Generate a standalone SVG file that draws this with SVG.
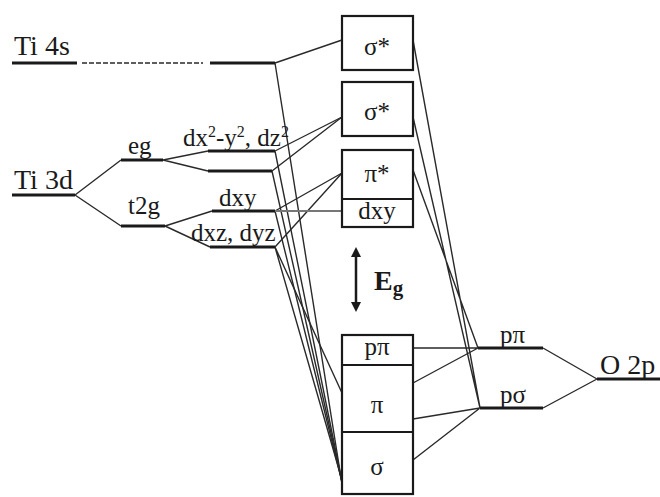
<svg xmlns="http://www.w3.org/2000/svg" width="660" height="497" viewBox="0 0 660 497">
  <style>
    .lvl { stroke: #1a1a1a; stroke-width: 3; fill: none; }
    .ln { stroke: #2a2a2a; stroke-width: 1.4; fill: none; }
    .box { stroke: #1a1a1a; stroke-width: 2.2; fill: #ffffff; }
    .div { stroke: #1a1a1a; stroke-width: 2.2; fill: none; }
  </style>
  <defs>
    <marker id="tri" viewBox="0 0 10 10" refX="5" refY="5" markerWidth="10" markerHeight="10" markerUnits="userSpaceOnUse" orient="auto-start-reverse">
      <path d="M0,0 L10,5 L0,10 z" fill="#1a1a1a"/>
    </marker>
  </defs>

  <rect width="660" height="497" fill="#ffffff"/>

  <!-- connectors -->
  <g id="connectors">
    <!-- splitting of Ti levels -->
    <path class="ln" d="M75,195 L121,160 M75,195 L121,226"/>
    <path class="ln" d="M163,160 L208,151 M163,160 L208,171"/>
    <path class="ln" d="M165,226 L212,211 M165,226 L210,247"/>
    <path class="ln" d="M82,63 L203,63" stroke-dasharray="5,2" stroke="#555"/>
    <!-- Ti side to molecular orbitals -->
    <path class="ln" d="M275,63 L342,40 M275,63 L342,484"/>
    <path class="ln" d="M275,151 L342,117 M275,151 L342,482"/>
    <path class="ln" d="M272,171 L342,117 M272,171 L342,482"/>
    <path class="ln" d="M275,211 L342,173 M275,211 L342,482"/>
    <path class="ln" d="M275,247 L342,173 M275,247 L342,393 M275,247 L342,480"/>
    <path d="M275,211 L342,211" stroke="#777" stroke-width="2.2"/>
    <!-- O side to molecular orbitals -->
    <path class="ln" d="M413,40 L480,408 M413,117 L480,408 M413,170 L478,348"/>
    <path class="ln" d="M413,348 L478,348 M413,383 L478,348 M413,419 L480,408 M413,460 L480,408"/>
    <path class="ln" d="M543,348 L597,379 M543,408 L597,379"/>
  </g>

  <!-- energy levels and orbital boxes -->
  <g font-family="'Liberation Serif', 'Noto Sans CJK SC', serif" font-size="25" fill="#1a1a1a">
    <g id="ti4s">
      <path class="lvl" d="M12,63 H77 M210,63 H275"/>
      <text x="14" y="55" font-size="28">Ti 4s</text>
    </g>

    <g id="ti3d">
      <path class="lvl" d="M12,195 H75"/>
      <text x="14" y="189" font-size="28">Ti 3d</text>
    </g>

    <g id="eg">
      <path class="lvl" d="M121,160 H163"/>
      <text x="128" y="154">eg</text>
    </g>

    <g id="t2g">
      <path class="lvl" d="M121,226 H165"/>
      <text x="128" y="214">t2g</text>
    </g>

    <g id="eg-levels">
      <path class="lvl" d="M208,151 H275 M208,171 H272"/>
      <text x="183" y="146">dx<tspan font-size="16" dy="-9">2</tspan><tspan dy="9">-y</tspan><tspan font-size="16" dy="-9">2</tspan><tspan dy="9">, dz</tspan><tspan font-size="16" dy="-9">2</tspan></text>
    </g>

    <g id="dxy-level">
      <path class="lvl" d="M212,211 H275"/>
      <text x="219" y="206">dxy</text>
    </g>

    <g id="dxz-dyz-level">
      <path class="lvl" d="M210,247 H275"/>
      <text x="191" y="241">dxz, dyz</text>
    </g>

    <!-- molecular orbitals -->
    <g id="sigma-star-1" text-anchor="middle">
      <rect class="box" x="342" y="16" width="71" height="54"/>
      <text x="377" y="55">&#963;*</text>
    </g>
    <g id="sigma-star-2" text-anchor="middle">
      <rect class="box" x="342" y="82" width="71" height="54"/>
      <text x="377" y="120">&#963;*</text>
    </g>
    <g id="pi-star" text-anchor="middle">
      <rect class="box" x="342" y="150" width="71" height="77"/>
      <path class="div" d="M342,199 H413"/>
      <text x="377" y="182">&#960;*</text>
      <text x="377" y="219">dxy</text>
    </g>

    <g id="gap">
      <line x1="356" y1="252" x2="356" y2="307" stroke="#1a1a1a" stroke-width="2.5" marker-start="url(#tri)" marker-end="url(#tri)"/>
      <text x="374" y="290" font-size="28" font-weight="bold">E<tspan font-size="21" dy="5">g</tspan></text>
    </g>

    <g id="bonding" text-anchor="middle">
      <rect class="box" x="342" y="335" width="71" height="159"/>
      <path class="div" d="M342,365 H413 M342,432 H413"/>
      <text x="377" y="355">p&#960;</text>
      <text x="377" y="413">&#960;</text>
      <text x="377" y="475">&#963;</text>
    </g>

    <!-- O 2p -->
    <g id="o-ppi">
      <path class="lvl" d="M478,348 H543"/>
      <text x="500" y="343">p&#960;</text>
    </g>
    <g id="o-psigma">
      <path class="lvl" d="M480,408 H543"/>
      <text x="500" y="403">p&#963;</text>
    </g>
    <g id="o2p">
      <path class="lvl" d="M597,379 H660"/>
      <text x="600" y="374" font-size="28">O 2p</text>
    </g>
  </g>
</svg>
